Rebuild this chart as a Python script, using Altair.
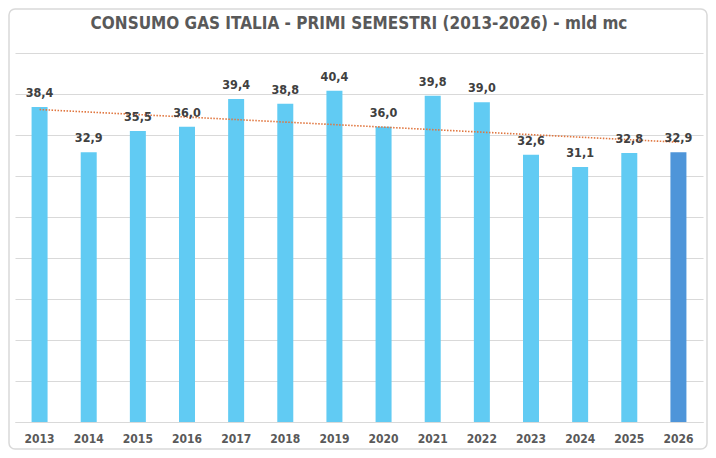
import altair as alt
import pandas as pd

years = [2013, 2014, 2015, 2016, 2017, 2018, 2019, 2020, 2021, 2022, 2023, 2024, 2025, 2026]
values = [38.4, 32.9, 35.5, 36.0, 39.4, 38.8, 40.4, 36.0, 39.8, 39.0, 32.6, 31.1, 32.8, 32.9]
highlight = ["no"] * 13 + ["yes"]

df = pd.DataFrame({"year": years, "value": values, "hl": highlight})

FONT = "Liberation Sans Narrow, DejaVu Sans Condensed, sans-serif"
W, H = 688, 369

base = alt.Chart(df)

xenc = alt.X("year:O", scale=alt.Scale(paddingInner=0, paddingOuter=0),
             axis=alt.Axis(title=None, labelAngle=0, labelFont=FONT, labelFontSize=12,
                           labelFontWeight="bold", labelColor="#595959", ticks=False,
                           domainColor="#d9d9d9", labelPadding=11))
yscale = alt.Scale(domain=[0, 45])

bars = base.mark_bar(size=16).encode(
    x=xenc,
    y=alt.Y("value:Q", scale=yscale,
            axis=alt.Axis(title=None, labels=False, ticks=False, domain=False,
                          values=[0, 5, 10, 15, 20, 25, 30, 35, 40, 45],
                          gridColor="#d9d9d9")),
    color=alt.Color("hl:N", scale=alt.Scale(domain=["no", "yes"], range=["#61CBF3", "#4E95D9"]),
                    legend=None),
)

labels = base.transform_calculate(
    lab="replace(format(datum.value, '.1f'), '.', ',')"
).mark_text(font=FONT, fontSize=12.5, fontWeight="bold", color="#404040",
            baseline="alphabetic", dy=-10).encode(
    x="year:O", y=alt.Y("value:Q", scale=yscale), text="lab:N")

trend = base.transform_regression("year", "value", method="linear").mark_line(
    color="#E0763F", strokeDash=[1.5, 1.5], strokeWidth=1.6).encode(
    x="year:O", y=alt.Y("value:Q", scale=yscale))

border = alt.Chart(pd.DataFrame({"a": [0]})).mark_rect(
    fill="transparent", stroke="#d9d9d9", strokeWidth=1.5, cornerRadius=6, clip=False).encode(
    x=alt.value(-6), x2=alt.value(692), y=alt.value(-44), y2=alt.value(396))

chart = alt.layer(border, bars, trend, labels).properties(
    width=W, height=H,
    title=alt.Title("CONSUMO GAS ITALIA - PRIMI SEMESTRI (2013-2026) - mld mc",
                    font=FONT, fontSize=17, fontWeight="bold", color="#595959",
                    anchor="middle", frame="group", offset=0, dy=25),
    autosize=alt.AutoSizeParams(type="none"),
    padding={"left": 7, "top": 45, "right": 5, "bottom": 36},
).configure(background="white").configure_view(stroke=None)

chart.save("out.html", embed_options={"renderer": "svg", "actions": False})
